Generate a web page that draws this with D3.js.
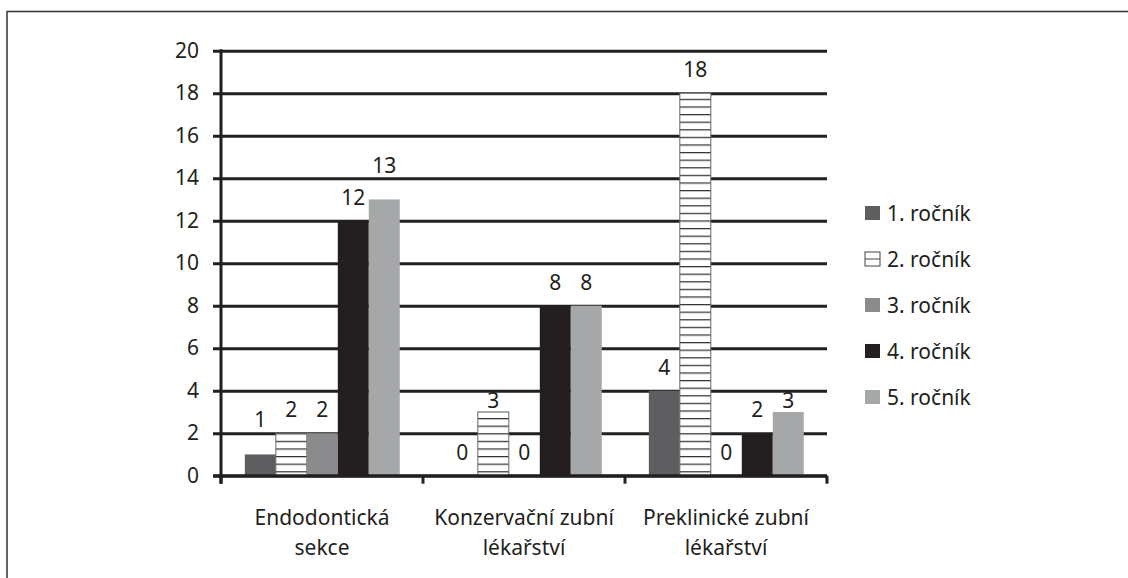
<!DOCTYPE html>
<html>
<head>
<meta charset="utf-8">
<script src="https://cdn.jsdelivr.net/npm/d3@7"></script>
<style>
  body { margin: 0; background: #fff; }
  text { font-family: "Noto Sans", "Open Sans", sans-serif; fill: #231f20; }
</style>
</head>
<body>
<div id="container"></div>
<script>
const categories = [["Endodontická", "sekce"], ["Konzervační zubní", "lékařství"], ["Preklinické zubní", "lékařství"]]
const series = ["1. ročník", "2. ročník", "3. ročník", "4. ročník", "5. ročník"]
// values[series][category]
const values = [
    [1, 0, 4],
    [2, 3, 18],
    [2, 0, 0],
    [12, 8, 2],
    [13, 8, 3]
]
const yTicks = [0, 2, 4, 6, 8, 10, 12, 14, 16, 18, 20]

const colors = ["#5e5e60", "url(#hatch)", "#8b8b8d", "#231f20", "#a6a7a9"]
// label offsets the original chart placed a bit off the usual spot
const labelNudge = { "0-0": -11, "4-0": -10, "1-1": 12, "4-2": 12 }

const width = 1128
const height = 578
const plot = { left: 221, right: 827, top: 50.7, bottom: 475.7 }
const fontSize = "21px"

const svg = d3.create("svg")
    .attr("width", width)
    .attr("height", height)

const defs = svg.append("defs")
const pat = defs.append("pattern")
    .attr("id", "hatch")
    .attr("patternUnits", "userSpaceOnUse")
    .attr("width", 8)
    .attr("height", 7.6)
pat.append("rect").attr("width", 8).attr("height", 7.6).attr("fill", "#fff")
pat.append("line")
    .attr("x1", 0).attr("x2", 8).attr("y1", 0.6).attr("y2", 0.6)
    .attr("stroke", "#333").attr("stroke-width", 1.3)

// outer frame (only top and left are visible)
svg.append("path")
    .attr("d", `M7,${height} V11.5 H${width}`)
    .attr("fill", "none")
    .attr("stroke", "#333")
    .attr("stroke-width", 1.5)

const x = d3.scaleBand()
    .domain(d3.range(categories.length))
    .range([plot.left, plot.right])

const bw = x.bandwidth()
const xs = d3.scaleBand()
    .domain(d3.range(series.length))
    .range([bw * 0.118, bw * 0.885])

const y = d3.scaleLinear()
    .domain([0, 20])
    .range([plot.bottom, plot.top])

// gridlines + y axis
const yAxis = svg.append("g")
    .attr("transform", `translate(${plot.left},0)`)
    .call(d3.axisLeft(y).tickValues(yTicks).tickSize(8).tickPadding(14))
yAxis.select(".domain").remove()
yAxis.selectAll(".tick line")
    .attr("x1", -8)
    .attr("x2", plot.right - plot.left)
    .attr("stroke", "#231f20")
    .attr("stroke-width", 3)
yAxis.selectAll(".tick text")
    .style("font-size", fontSize)
    .style("font-family", "'Noto Sans', sans-serif")
    .attr("fill", "#231f20")

// bars
const groups = svg.append("g")
    .selectAll("g")
    .data(values)
    .join("g")
    .attr("fill", (d, i) => colors[i])

groups.selectAll("rect")
    .data((d, si) => d.map((v, ci) => ({ v, ci, si })))
    .join("rect")
    .attr("x", d => x(d.ci) + xs(d.si))
    .attr("y", d => y(d.v))
    .attr("width", xs.bandwidth())
    .attr("height", d => y(0) - y(d.v))
    .attr("stroke", d => d.si === 1 ? "#666" : "none")
    .attr("stroke-width", 1)

// value labels
svg.append("g")
    .selectAll("text")
    .data(values.flatMap((d, si) => d.map((v, ci) => ({ v, ci, si }))))
    .join("text")
    .attr("x", d => x(d.ci) + xs(d.si) + xs.bandwidth() / 2)
    .attr("y", d => y(d.v) - 16 + (labelNudge[`${d.si}-${d.ci}`] || 0))
    .attr("text-anchor", "middle")
    .style("font-size", fontSize)
    .text(d => d.v)

// axis lines
svg.append("line")
    .attr("x1", plot.left).attr("x2", plot.left)
    .attr("y1", plot.top - 1.5).attr("y2", plot.bottom + 8)
    .attr("stroke", "#231f20").attr("stroke-width", 3)
svg.append("line")
    .attr("x1", plot.left - 8).attr("x2", plot.right)
    .attr("y1", plot.bottom).attr("y2", plot.bottom)
    .attr("stroke", "#231f20").attr("stroke-width", 3)

svg.append("g")
    .selectAll("line")
    .data(d3.range(categories.length + 1))
    .join("line")
    .attr("x1", i => i < categories.length ? x(i) : plot.right)
    .attr("x2", i => i < categories.length ? x(i) : plot.right)
    .attr("y1", plot.bottom)
    .attr("y2", plot.bottom + 8)
    .attr("stroke", "#231f20").attr("stroke-width", 3)

// category labels
const catText = svg.append("g")
    .selectAll("text")
    .data(categories)
    .join("text")
    .attr("text-anchor", "middle")
    .style("font-size", fontSize)
    .attr("transform", (d, i) => `translate(${x(i) + bw / 2},525)`)
catText.selectAll("tspan")
    .data(d => d)
    .join("tspan")
    .attr("x", 0)
    .attr("dy", (d, i) => i === 0 ? 0 : 30)
    .text(d => d)

// legend
const legend = svg.append("g")
    .attr("transform", "translate(865,0)")
const item = legend.selectAll("g")
    .data(series)
    .join("g")
    .attr("transform", (d, i) => `translate(0,${206 + i * 46})`)
item.append("rect")
    .attr("width", 15)
    .attr("height", 14)
    .attr("fill", (d, i) => i === 1 ? "#fff" : colors[i])
    .attr("stroke", (d, i) => i === 1 ? "#444" : "none")
    .attr("stroke-width", 1)
item.filter((d, i) => i === 1).append("line")
    .attr("x1", 0).attr("x2", 15).attr("y1", 7).attr("y2", 7)
    .attr("stroke", "#444").attr("stroke-width", 1)
item.append("text")
    .attr("x", 22)
    .attr("y", 15)
    .style("font-size", fontSize)
    .text(d => d)

document.querySelector("#container").appendChild(svg.node())
</script>
</body>
</html>
